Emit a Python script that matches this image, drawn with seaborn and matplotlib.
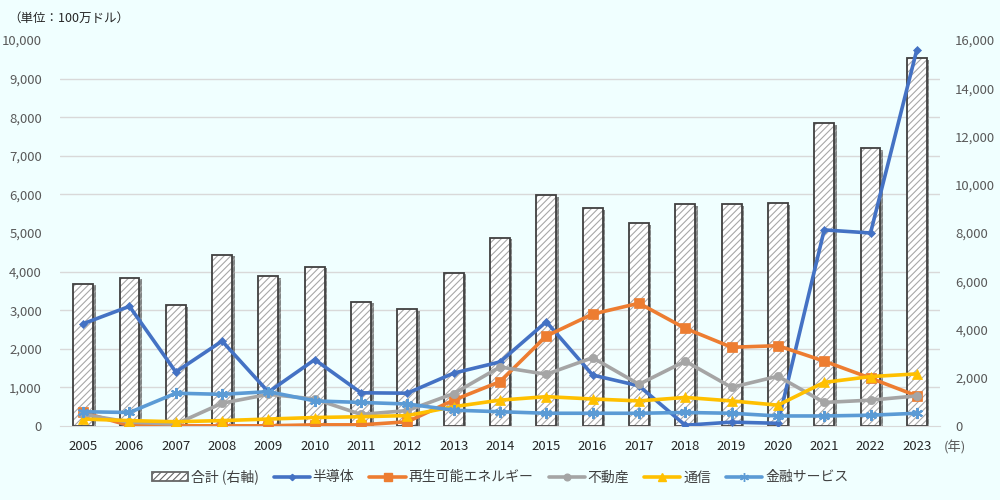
import numpy as np
import pandas as pd
import matplotlib
matplotlib.use('Agg')
import matplotlib.pyplot as plt
import matplotlib.patheffects as pe
from matplotlib.patches import Patch
from matplotlib.lines import Line2D
from matplotlib.ticker import FixedLocator, FuncFormatter
import seaborn as sns

# Data
years = [str(y) for y in range(2005, 2024)]
total = [5900, 6150, 5000, 7100, 6220, 6600, 5150, 4850, 6350, 7800,
         9580, 9040, 8420, 9200, 9200, 9250, 12560, 11520, 15250]
semiconductor = [2650, 3100, 1400, 2200, 880, 1720, 860, 850, 1370, 1660,
                 2700, 1320, 1040, 20, 100, 70, 5080, 5000, 9750]
renewable = [350, 10, 5, 5, 5, 30, 30, 110, 670, 1150,
             2330, 2900, 3180, 2530, 2040, 2080, 1680, 1240, 780]
real_estate = [300, 100, 50, 590, 820, 700, 300, 400, 840, 1530,
               1340, 1770, 1080, 1680, 1000, 1290, 610, 670, 780]
telecom = [180, 140, 110, 140, 180, 220, 240, 270, 500, 670,
           760, 700, 650, 740, 650, 540, 1130, 1280, 1350]
finance = [370, 350, 850, 820, 890, 650, 610, 570, 410, 370,
           330, 330, 330, 350, 330, 260, 260, 280, 330]

series_names = ['半導体', '再生可能エネルギー', '不動産', '通信', '金融サービス']
series_values = [semiconductor, renewable, real_estate, telecom, finance]
series_colors = ['#4472C4', '#ED7D31', '#A5A5A5', '#FFC000', '#5B9BD5']
series_markers = ['D', 's', 'o', '^', (6, 2, 0)]
marker_sizes = [4, 7, 6, 7, 8]

sns.set_style('white')
plt.rcParams['font.family'] = ['Noto Sans CJK JP', 'DejaVu Sans']
plt.rcParams['hatch.linewidth'] = 0.8

bg = '#F0FFFF'
fig = plt.figure(figsize=(10, 5), dpi=100, facecolor=bg)
ax_bar = fig.add_axes([0.06, 0.148, 0.88, 0.772])
ax_line = ax_bar.twinx()

df_total = pd.DataFrame({'year': years, 'total': total})

# bars (right axis) - hatch layer with shadow, then dark outline
sns.barplot(data=df_total, x='year', y='total', ax=ax_bar, color='white',
            width=0.43, edgecolor='#a8a8a8', linewidth=0, hatch='/////',
            saturation=1)
for p in ax_bar.patches:
    p.set_path_effects([pe.SimplePatchShadow(offset=(1.8, -1.2), shadow_rgbFace='#555555', alpha=0.7),
                        pe.Normal()])
sns.barplot(data=df_total, x='year', y='total', ax=ax_bar, fill=False,
            width=0.43, edgecolor='#404040', linewidth=1.3)

# lines (left axis)
x_idx = np.arange(len(years))
for name, vals, c, m, ms in zip(series_names, series_values, series_colors,
                                series_markers, marker_sizes):
    sns.lineplot(x=x_idx, y=vals, ax=ax_line, color=c, linewidth=2.6,
                 marker=m, markersize=ms, markeredgecolor=c,
                 markeredgewidth=1.5 if m == (6, 2, 0) else 0.5, legend=False)

# put bar axis behind, ticks on the right; line axis ticks on the left
ax_bar.set_zorder(1)
ax_line.set_zorder(2)
ax_line.patch.set_visible(False)
ax_bar.set_facecolor(bg)

ax_bar.yaxis.tick_right()
ax_line.yaxis.tick_left()
ax_bar.set_ylim(0, 16000)
ax_line.set_ylim(0, 10000)
ax_bar.set_xlim(-0.5, len(years) - 0.5)
ax_bar.set_yticks(np.arange(0, 16001, 2000))
ax_line.set_yticks(np.arange(0, 10001, 1000))
fmt = FuncFormatter(lambda v, p: f'{int(v):,}')
ax_bar.yaxis.set_major_formatter(fmt)
ax_line.yaxis.set_major_formatter(fmt)

# gridlines follow the left axis, drawn on the bar axis so bars cover them
ax_bar.yaxis.set_minor_locator(FixedLocator(np.arange(0, 16001, 1600)))
ax_bar.grid(axis='y', which='minor', color='#D9D9D9', linewidth=1)
ax_bar.grid(axis='y', which='major', visible=False)
ax_bar.set_axisbelow(True)

for a in (ax_bar, ax_line):
    for s in a.spines.values():
        s.set_visible(False)
    a.set_xlabel('')
    a.set_ylabel('')
ax_bar.spines['bottom'].set_visible(True)
ax_bar.spines['bottom'].set_color('#D9D9D9')

ax_bar.tick_params(axis='y', which='both', length=0, labelsize=9.5,
                   labelcolor='#595959', pad=11, right=False, labelright=True)
ax_line.tick_params(axis='y', length=0, labelsize=9.5, labelcolor='#595959', pad=13)
ax_bar.tick_params(axis='x', length=0, labelsize=9.5, labelcolor='#262626', pad=10)

fig.text(0.008, 0.964, '（単位：100万ドル）', fontsize=9, color='#262626', va='center')
fig.text(0.944, 0.104, '(年)', fontsize=9.5, color='#595959', va='center')

handles = [Patch(facecolor='white', edgecolor='#666666', hatch='/////', linewidth=1.3)]
for c, m, ms in zip(series_colors, series_markers, marker_sizes):
    handles.append(Line2D([0], [0], color=c, linewidth=2.6, marker=m,
                          markersize=ms * 0.8, markeredgecolor=c))
labels = ['合計 (右軸)'] + series_names
fig.legend(handles, labels, loc='center', bbox_to_anchor=(0.5, 0.046), ncol=6,
           frameon=False, fontsize=10, handlelength=2.6, columnspacing=1.1,
           handletextpad=0.2, labelcolor='#404040')

fig.savefig('out.png', dpi=100, facecolor=bg)
